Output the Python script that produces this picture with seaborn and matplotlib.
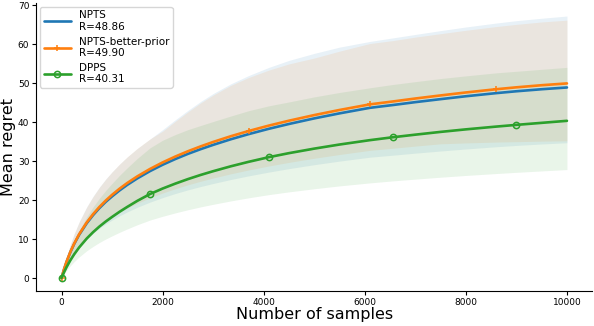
import matplotlib
matplotlib.use("Agg")
import matplotlib.pyplot as plt
import numpy as np
import pandas as pd
import seaborn as sns

# number of samples (shared grid for all runs)
n_samples = [0, 50, 100, 175, 250, 350, 500, 625, 750, 875, 1000, 1150, 1300,
             1500, 1750, 2000, 2250, 2500, 2750, 3000, 3350, 3700, 4100, 4500,
             5000, 5500, 6100, 6550, 7000, 7500, 8000, 8600, 9000, 9500, 10000]

# NPTS
npts_mean = [0, 2.22, 4.15, 6.62, 8.72, 11.11, 14.07, 16.13, 17.94, 19.53, 20.93,
             22.48, 23.88, 25.55, 27.41, 29.04, 30.50, 31.83, 33.03, 34.14, 35.58,
             36.89, 38.26, 39.50, 40.93, 42.22, 43.64, 44.35, 45.10, 45.87, 46.61,
             47.41, 47.89, 48.41, 48.86]
npts_upper = [0, 2.89, 5.40, 8.61, 11.34, 14.44, 18.29, 20.97, 23.32, 25.39, 27.21,
              29.22, 31.04, 33.22, 35.63, 38.04, 40.57, 42.97, 45.25, 47.30, 49.80,
              51.90, 54.00, 55.80, 57.60, 59.20, 60.66, 61.56, 62.46, 63.44, 64.37,
              65.38, 65.99, 66.61, 67.18]
npts_lower = [0, 1.58, 2.95, 4.70, 6.19, 7.89, 9.99, 11.45, 12.74, 13.87, 14.86,
              15.96, 16.95, 18.14, 19.46, 20.62, 21.66, 22.60, 23.45, 24.24, 25.26,
              26.19, 27.16, 28.05, 29.06, 29.98, 30.98, 31.49, 32.02, 32.57, 33.09,
              33.66, 34.00, 34.37, 34.69]

# NPTS with the better prior
better_mean = [0, 2.24, 4.19, 6.69, 8.82, 11.25, 14.27, 16.38, 18.23, 19.86, 21.33,
               22.92, 24.36, 26.07, 27.96, 29.64, 31.14, 32.50, 33.74, 34.89, 36.36,
               37.69, 39.08, 40.34, 41.78, 43.09, 44.53, 45.26, 46.03, 46.82, 47.58,
               48.41, 48.90, 49.44, 49.90]
better_upper = [0, 2.86, 5.34, 8.53, 11.25, 14.34, 18.19, 20.88, 23.24, 25.32, 27.20,
                29.22, 31.06, 33.24, 35.65, 37.64, 40.17, 42.58, 44.87, 46.90, 49.40,
                51.40, 53.30, 54.90, 56.40, 58.17, 60.12, 60.87, 61.77, 62.65, 63.52,
                64.48, 65.04, 65.66, 66.12]
better_lower = [0, 1.65, 3.08, 4.92, 6.48, 8.27, 10.49, 12.04, 13.40, 14.60, 15.68,
                16.85, 17.90, 19.16, 20.55, 21.79, 22.89, 23.89, 24.80, 25.64, 26.72,
                27.70, 28.72, 29.65, 30.71, 31.67, 32.73, 33.27, 33.83, 34.41, 34.64,
                34.86, 34.96, 35.10, 35.18]

# DPPS
dpps_mean = [0, 1.47, 2.79, 4.54, 6.07, 7.86, 10.14, 11.76, 13.20, 14.49, 15.66,
             17.00, 18.23, 19.79, 21.53, 22.94, 24.20, 25.36, 26.42, 27.39, 28.65,
             29.79, 30.98, 32.02, 33.18, 34.23, 35.35, 36.09, 36.76, 37.47, 38.12,
             38.83, 39.27, 39.79, 40.31]
dpps_upper = [0, 2.28, 4.32, 7.04, 9.41, 12.18, 15.72, 18.23, 20.46, 22.46, 24.27,
              26.35, 28.26, 30.67, 33.37, 35.33, 36.78, 38.04, 39.10, 40.13, 41.54,
              42.90, 44.15, 45.15, 46.45, 47.58, 48.78, 49.62, 50.36, 51.15, 51.84,
              52.61, 53.01, 53.52, 54.02]
dpps_lower = [0, 1.01, 1.93, 3.13, 4.19, 5.42, 7.00, 8.11, 9.11, 10.00, 10.81,
              11.73, 12.58, 13.66, 14.86, 15.83, 16.70, 17.50, 18.23, 18.90, 19.77,
              20.56, 21.38, 22.09, 22.89, 23.62, 24.39, 24.90, 25.36, 25.85, 26.30,
              26.79, 27.10, 27.46, 27.81]

labels = ["NPTS\nR=48.86", "NPTS-better-prior\nR=49.90", "DPPS\nR=40.31"]

sns.set_style("ticks", {"axes.edgecolor": "black", "xtick.color": "black",
                        "ytick.color": "black", "text.color": "black",
                        "axes.labelcolor": "black"})
plt.rcParams["font.family"] = ["DejaVu Sans"]

fig = plt.figure(figsize=(5.94, 3.26), dpi=100)
ax = fig.add_axes([0.061, 0.107, 0.936, 0.884])

palette = sns.color_palette("tab10")
runs = [
    (labels[0], npts_mean, npts_lower, npts_upper, palette[0], None, []),
    (labels[1], better_mean, better_lower, better_upper, palette[1], "+", [0, 21, 26, 31]),
    (labels[2], dpps_mean, dpps_lower, dpps_upper, palette[2], "o", [0, 14, 22, 27, 32]),
]

for label, mean, lower, upper, color, marker, marks in runs:
    df = pd.DataFrame({"samples": n_samples, "regret": mean})
    sns.lineplot(data=df, x="samples", y="regret", ax=ax, color=color, lw=1.9,
                 label=label, marker=marker, markevery=marks, ms=4.5,
                 mfc="none", mec=color, mew=1.1)
    ax.fill_between(n_samples, lower, upper, color=color, alpha=0.1, lw=0)

ax.set_xticks([0, 2000, 4000, 6000, 8000, 10000])
ax.set_yticks(np.arange(0, 71, 10))
ax.tick_params(labelsize=6.5, length=3, pad=2)
ax.set_xlabel("Number of samples", fontsize=11.5, labelpad=0)
ax.set_ylabel("Mean regret", fontsize=11.5, labelpad=1)
sns.despine(ax=ax)

ax.legend(loc="upper left", fontsize=7.5, handlelength=2.6, handletextpad=0.8,
          labelspacing=0.45, borderaxespad=0.4, borderpad=0.3)

fig.savefig("out.png", dpi=100)
